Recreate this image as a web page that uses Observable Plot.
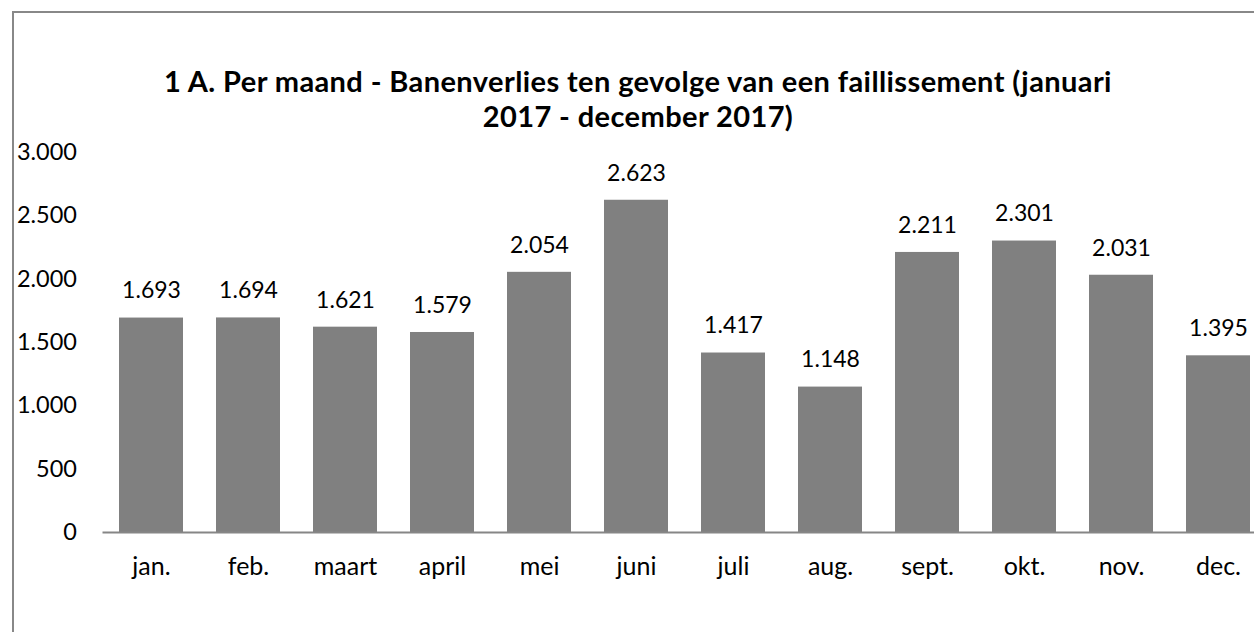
<!DOCTYPE html>
<html>
<head>
<meta charset="utf-8">
<script src="https://cdn.jsdelivr.net/npm/d3@7"></script>
<script src="https://cdn.jsdelivr.net/npm/@observablehq/plot@0.6"></script>
<style>
  html, body { margin: 0; padding: 0; background: #fff; overflow: hidden; width: 1254px; height: 632px; }
  #frame { position: absolute; left: 12px; top: 11px; width: 1300px; height: 700px;
           border-left: 2px solid #888; border-top: 2px solid #888; }
  #title { position: absolute; left: 13px; width: 1250px; top: 63px; text-align: center;
           font-family: Lato, sans-serif; font-weight: bold; font-size: 29px; letter-spacing: 0.4px;
           line-height: 35px; color: #000; }
  #chart { position: absolute; left: 0; top: 120px; }
</style>
</head>
<body>
<div id="frame"></div>
<div id="title">1 A. Per maand - Banenverlies ten gevolge van een faillissement (januari<br>2017 - december 2017)</div>
<div id="chart"></div>
<script>
const months = ["jan.", "feb.", "maart", "april", "mei", "juni", "juli", "aug.", "sept.", "okt.", "nov.", "dec."];
const values = [1693, 1694, 1621, 1579, 2054, 2623, 1417, 1148, 2211, 2301, 2031, 1395];
const yTicks = [0, 500, 1000, 1500, 2000, 2500, 3000];

const nl = d3.formatLocale({decimal: ",", thousands: ".", grouping: [3], currency: ["€", ""]});
const fmt = nl.format(",d");
const data = months.map((m, i) => ({month: m, value: values[i]}));

const plot = Plot.plot({
  width: 1254,
  height: 512,
  marginTop: 32,
  marginBottom: 100,
  marginLeft: 102.5,
  marginRight: -12.5,
  style: {fontFamily: "Lato, sans-serif", fontSize: "23px", color: "#000", background: "transparent", overflow: "hidden"},
  x: {domain: months, paddingInner: 0.34, paddingOuter: 0.17, label: null},
  y: {domain: [0, 3000], label: null},
  marks: [
    Plot.axisY({ticks: yTicks, tickFormat: fmt, tickSize: 0, tickPadding: 26, fontSize: 23.5}),
    Plot.axisX({tickSize: 0, tickPadding: 25, fontSize: 25}),
    Plot.barY(data, {x: "month", y: "value", fill: "#808080"}),
    Plot.ruleY([0], {stroke: "#868686", strokeWidth: 2}),
    Plot.text(data, {x: "month", y: "value", text: d => fmt(d.value), dy: -27, fontSize: 23, fill: "#000"})
  ]
});
document.getElementById("chart").appendChild(plot);
</script>
</body>
</html>
